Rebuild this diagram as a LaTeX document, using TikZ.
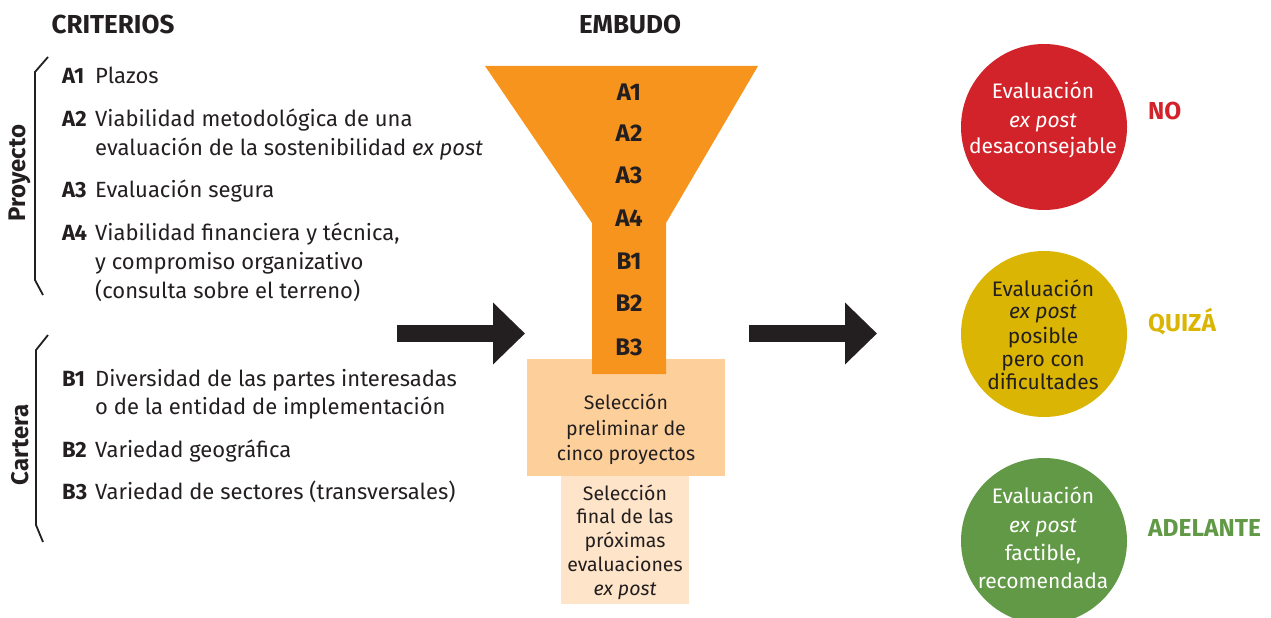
\documentclass[tikz,border=0pt]{standalone}
\usepackage{fontspec}
\setmainfont{Fira Sans}
\usetikzlibrary{arrows.meta}
\definecolor{ink}{RGB}{35,31,32}
\definecolor{funnel}{RGB}{247,148,30}
\definecolor{boxone}{RGB}{253,208,155}
\definecolor{boxtwo}{RGB}{254,228,200}
\definecolor{cred}{RGB}{210,35,42}
\definecolor{cyel}{RGB}{218,181,4}
\definecolor{cgreen}{RGB}{97,153,70}
\begin{document}
\begin{tikzpicture}[x=1pt,y=-1pt,
  txt/.style={anchor=base west, inner sep=0pt, text=ink, font=\fontsize{22}{24}\selectfont},
  lbl/.style={txt, font=\fontsize{22}{24}\selectfont\bfseries},
  head/.style={inner sep=0pt, text=ink, font=\fontsize{26}{28}\selectfont\bfseries},
  side/.style={inner sep=0pt, text=ink, rotate=90, font=\fontsize{24}{26}\selectfont\bfseries},
  brace/.style={draw=ink, line width=1.8pt},
  flab/.style={inner sep=0pt, text=ink, font=\fontsize{24}{26}\selectfont\bfseries},
  btxt/.style={anchor=base, inner sep=0pt, text=ink, font=\fontsize{19.5}{24}\selectfont},
  ctxt/.style={anchor=base, inner sep=0pt, font=\fontsize{21}{24}\selectfont},
  dot/.style={circle, minimum size=166pt, inner sep=0pt},
  verdict/.style={anchor=west, inner sep=0pt, font=\fontsize{24.5}{26}\selectfont\bfseries},
  bigarrow/.style={draw=ink, line width=16.5pt, -{Triangle[length=32pt,width=60pt]}}
]
\useasboundingbox (0,0) rectangle (1271,618);

% headings
\node[head] (hcrit) at (113,24) {CRITERIOS};
\node[head] (hemb) at (630,24) {EMBUDO};

% brackets
\draw[brace] (48,57) -- (35,72) -- (35,280) -- (43,295);
\draw[brace] (48,335) -- (36,350) -- (36,525) -- (43,542);
\node[side] (proy) at (20,173) {Proyecto};
\node[side] (cart) at (20,445) {Cartera};

% criteria list
\node[lbl] (a1) at (62,83) {A1};
\node[txt] (a1t) at (95,83) {Plazos};
\node[lbl] (a2) at (62,126) {A2};
\node[txt] (a2t) at (95,126) {Viabilidad metodológica de una};
\node[txt] (a2u) at (95,155) {evaluación de la sostenibilidad \textit{ex post}};
\node[lbl] (a3) at (62,197) {A3};
\node[txt] (a3t) at (95,197) {Evaluación segura};
\node[lbl] (a4) at (62,240) {A4};
\node[txt] (a4t) at (95,240) {Viabilidad financiera y técnica,};
\node[txt] (a4u) at (95,269) {y compromiso organizativo};
\node[txt] (a4v) at (95,298) {(consulta sobre el terreno)};
\node[lbl] (b1) at (62,386) {B1};
\node[txt] (b1t) at (95,386) {Diversidad de las partes interesadas};
\node[txt] (b1u) at (95,414) {o de la entidad de implementación};
\node[lbl] (b2) at (62,457) {B2};
\node[txt] (b2t) at (95,457) {Variedad geográfica};
\node[lbl] (b3) at (62,499) {B3};
\node[txt] (b3t) at (95,499) {Variedad de sectores (transversales)};

% funnel boxes
\node[fill=boxone, minimum width=198pt, minimum height=117pt, inner sep=0pt] (sel1) at (626,417.5) {};
\node[fill=boxtwo, minimum width=128pt, minimum height=128pt, inner sep=0pt] (sel2) at (625,540) {};
\fill[funnel] (485,66) -- (758,66) -- (666,223) -- (666,374) -- (592,374) -- (592,223) -- cycle;

\foreach \n/\y in {A1/92,A2/133,A3/175,A4/218,B1/261,B2/303,B3/347}{
  \node[flab] (f\n) at (629,\y) {\n};
}

\node[btxt] (s1a) at (626,409) {Selección};
\node[btxt] (s1b) at (626,435) {preliminar de};
\node[btxt] (s1c) at (626,460) {cinco proyectos};

\node[btxt] (s2a) at (625,500) {Selección};
\node[btxt] (s2b) at (625,523) {final de las};
\node[btxt] (s2c) at (625,547) {próximas};
\node[btxt] (s2d) at (625,571) {evaluaciones};
\node[btxt] (s2e) at (625,595) {\textit{ex post}};

% arrows
\coordinate (l1) at (397,333.5);
\coordinate (l2) at (525,333.5);
\coordinate (r1) at (749,333.5);
\coordinate (r2) at (877,333.5);
\draw[bigarrow] (l1) -- (l2);
\draw[bigarrow] (r1) -- (r2);

% outcome circles
\node[dot, fill=cred] (cno) at (1044,127) {};
\node[dot, fill=cyel] (cmaybe) at (1044,334) {};
\node[dot, fill=cgreen] (cgo) at (1044,541) {};

\node[ctxt, text=white] (n1) at (1043,99) {Evaluación};
\node[ctxt, text=white] (n2) at (1043,127) {\textit{ex post}};
\node[ctxt, text=white] (n3) at (1043,153) {desaconsejable};

\node[ctxt, text=ink] (m1) at (1043,296) {Evaluación};
\node[ctxt, text=ink] (m2) at (1043,318) {\textit{ex post}};
\node[ctxt, text=ink] (m3) at (1043,343) {posible};
\node[ctxt, text=ink] (m4) at (1043,366) {pero con};
\node[ctxt, text=ink] (m5) at (1043,389) {dificultades};

\node[ctxt, text=white] (g1) at (1043,503) {Evaluación};
\node[ctxt, text=white] (g2) at (1043,532) {\textit{ex post}};
\node[ctxt, text=white] (g3) at (1043,560) {factible,};
\node[ctxt, text=white] (g4) at (1043,588) {recomendada};

\node[verdict, text=cred] (vno) at (1148,111) {NO};
\node[verdict, text=cyel] (vmaybe) at (1148,322) {QUIZÁ};
\node[verdict, text=cgreen] (vgo) at (1148,528) {ADELANTE};
\end{tikzpicture}
\end{document}
